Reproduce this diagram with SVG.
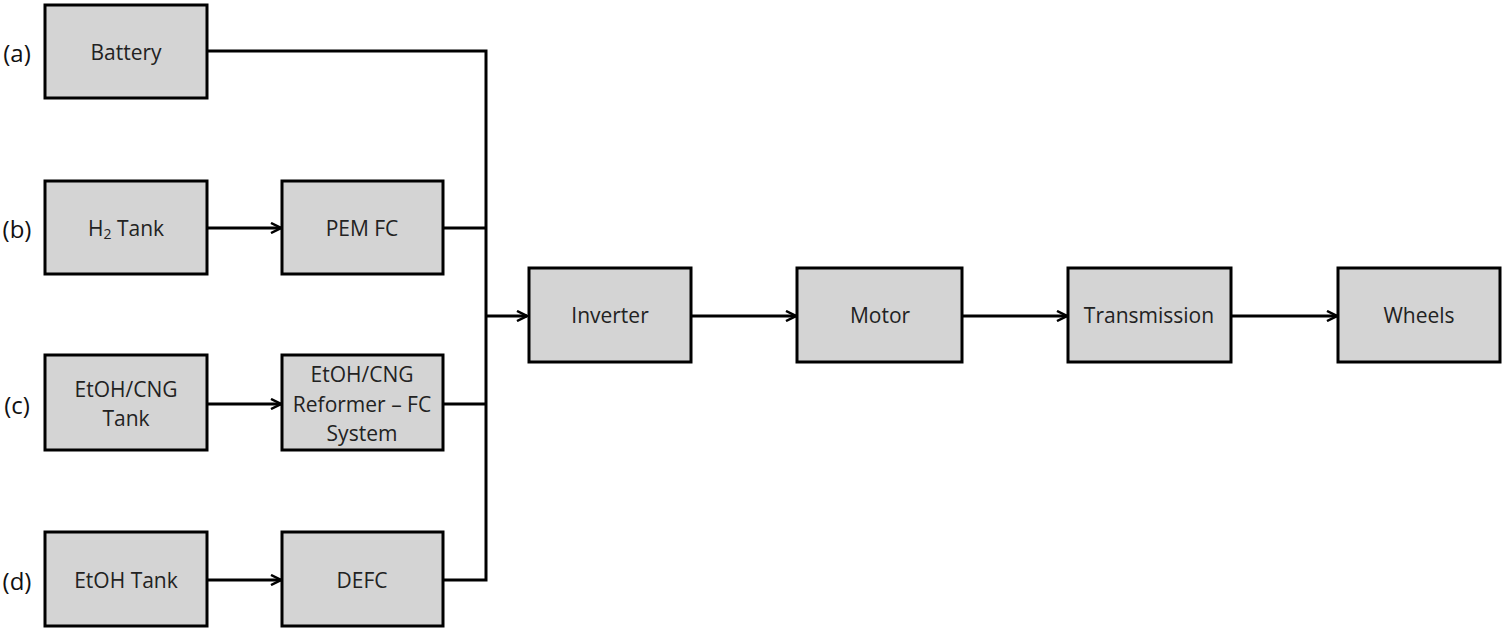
<svg xmlns="http://www.w3.org/2000/svg" width="1505" height="631" viewBox="0 0 1505 631">
<style>
.box{fill:#d4d4d4;stroke:#000;stroke-width:3}
.t{font-family:"Open Sans","Liberation Sans",sans-serif;font-size:21px;fill:#222;text-anchor:middle;dominant-baseline:central}
.lbl{font-family:"Open Sans","Liberation Sans",sans-serif;font-size:24px;fill:#111;text-anchor:middle;dominant-baseline:central}
.c{fill:none;stroke:#000;stroke-width:3}
</style>
<defs>
<marker id="arr" viewBox="0 0 12 12" refX="11" refY="6" markerWidth="12" markerHeight="12" markerUnits="userSpaceOnUse" orient="auto">
<path d="M1,1 L11,6 L1,11" fill="none" stroke="#000" stroke-width="2.5"/>
</marker>
</defs>
<text class="lbl" x="17" y="52">(a)</text>
<text class="lbl" x="17" y="228">(b)</text>
<text class="lbl" x="17" y="404">(c)</text>
<text class="lbl" x="17" y="580">(d)</text>
<g id="connectors">
<polyline class="c" points="207,51 486,51 486,580 443,580"/>
<line class="c" x1="443" y1="228" x2="486" y2="228"/>
<line class="c" x1="443" y1="404" x2="486" y2="404"/>
<line class="c" x1="207" y1="228" x2="281" y2="228" marker-end="url(#arr)"/>
<line class="c" x1="207" y1="404" x2="281" y2="404" marker-end="url(#arr)"/>
<line class="c" x1="207" y1="580" x2="281" y2="580" marker-end="url(#arr)"/>
<line class="c" x1="486" y1="316" x2="527" y2="316" marker-end="url(#arr)"/>
<line class="c" x1="691" y1="316" x2="796" y2="316" marker-end="url(#arr)"/>
<line class="c" x1="962" y1="316" x2="1067" y2="316" marker-end="url(#arr)"/>
<line class="c" x1="1231" y1="316" x2="1337" y2="316" marker-end="url(#arr)"/>
</g>
<g id="battery"><rect class="box" x="45" y="5" width="162" height="93"/><text class="t" x="126" y="52">Battery</text></g>
<g id="h2tank"><rect class="box" x="45" y="181" width="162" height="93"/><text class="t" x="126" y="228">H<tspan font-size="14" dy="5">2</tspan><tspan dy="-5"> Tank</tspan></text></g>
<g id="pemfc"><rect class="box" x="282" y="181" width="161" height="93"/><text class="t" x="362" y="228">PEM FC</text></g>
<g id="etohcngtank"><rect class="box" x="45" y="355" width="162" height="95"/><text class="t" x="126" y="389">EtOH/CNG</text><text class="t" x="126" y="418">Tank</text></g>
<g id="reformer"><rect class="box" x="282" y="355" width="161" height="95"/><text class="t" x="362" y="374">EtOH/CNG</text><text class="t" x="362" y="404">Reformer – FC</text><text class="t" x="362" y="433">System</text></g>
<g id="etohtank"><rect class="box" x="45" y="532" width="162" height="94"/><text class="t" x="126" y="580">EtOH Tank</text></g>
<g id="defc"><rect class="box" x="282" y="532" width="161" height="94"/><text class="t" x="362" y="580">DEFC</text></g>
<g id="inverter"><rect class="box" x="529" y="268" width="162" height="94"/><text class="t" x="610" y="315">Inverter</text></g>
<g id="motor"><rect class="box" x="797" y="268" width="165" height="94"/><text class="t" x="880" y="315">Motor</text></g>
<g id="transmission"><rect class="box" x="1068" y="268" width="163" height="94"/><text class="t" x="1149" y="315">Transmission</text></g>
<g id="wheels"><rect class="box" x="1338" y="268" width="162" height="94"/><text class="t" x="1419" y="315">Wheels</text></g>
</svg>
